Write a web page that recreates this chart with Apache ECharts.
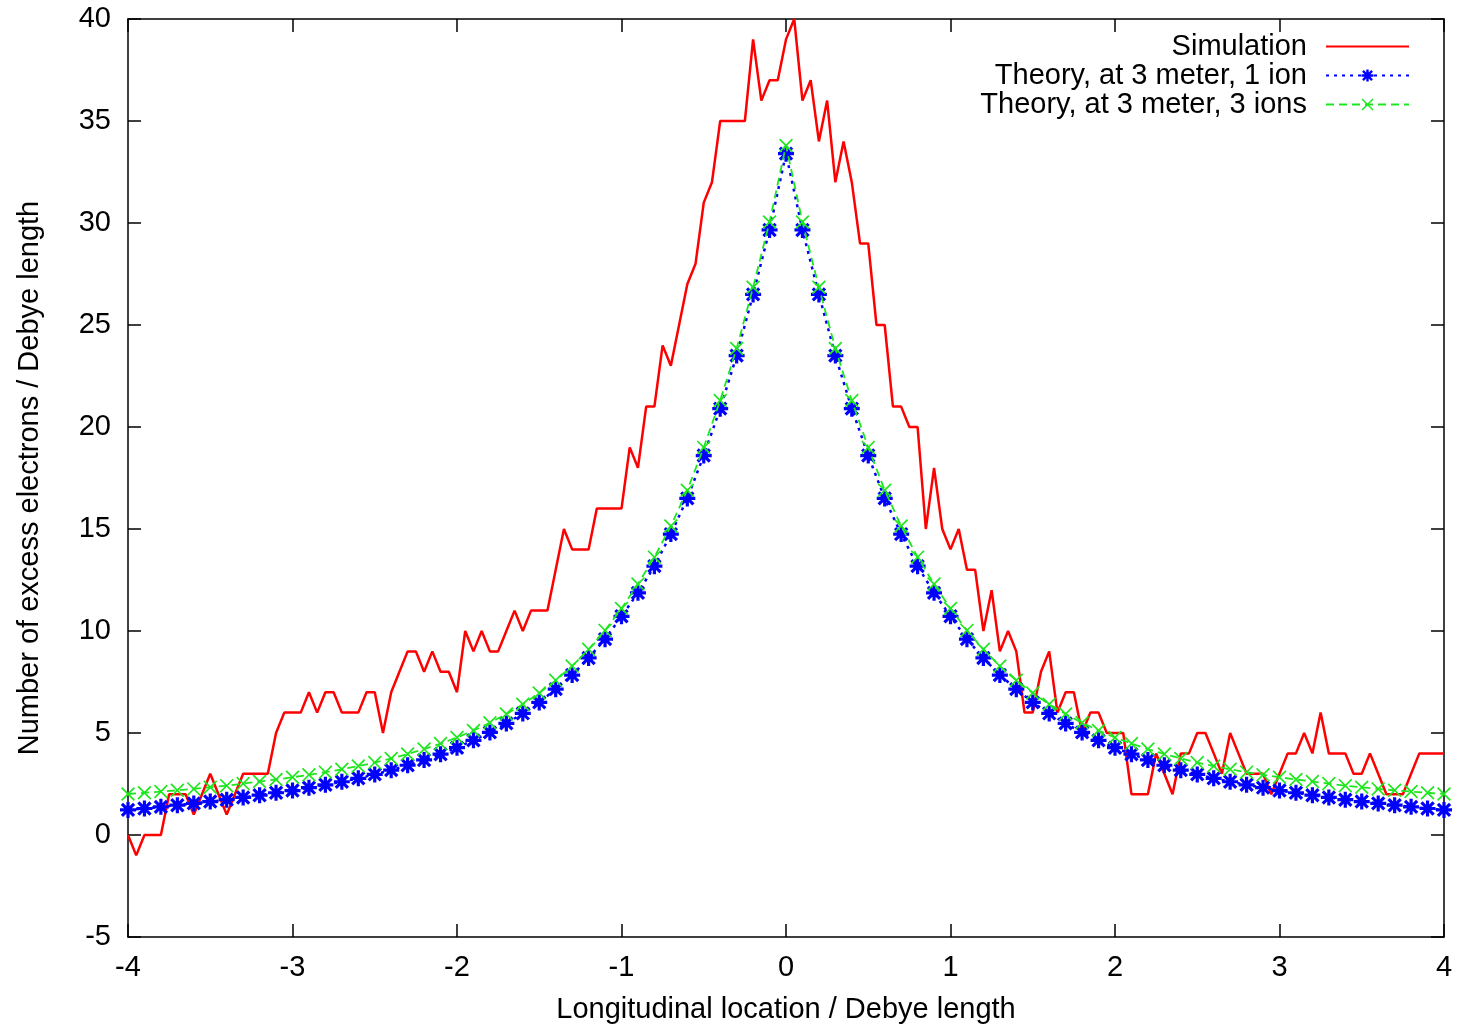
<!DOCTYPE html>
<html>
<head>
<meta charset="utf-8">
<script src="https://cdn.jsdelivr.net/npm/echarts@6/dist/echarts.min.js"></script>
<style>
  html, body { margin: 0; padding: 0; background: #fff; }
  #chart { width: 1460px; height: 1025px; }
</style>
</head>
<body>
<div id="chart"></div>
<script>
// sampling grids (x from -4 to 4)
const xStart = -4;
const simStep = 0.05;
const theoryStep = 0.1;

// red: excess electron counts, one value every 0.05
const simulation = [
  0, -1, 0, 0, 0, 2, 2, 2, 1, 2,
  3, 2, 1, 2, 3, 3, 3, 3, 5, 6,
  6, 6, 7, 6, 7, 7, 6, 6, 6, 7,
  7, 5, 7, 8, 9, 9, 8, 9, 8, 8,
  7, 10, 9, 10, 9, 9, 10, 11, 10, 11,
  11, 11, 13, 15, 14, 14, 14, 16, 16, 16,
  16, 19, 18, 21, 21, 24, 23, 25, 27, 28,
  31, 32, 35, 35, 35, 35, 39, 36, 37, 37,
  39, 40, 36, 37, 34, 36, 32, 34, 32, 29,
  29, 25, 25, 21, 21, 20, 20, 15, 18, 15,
  14, 15, 13, 13, 10, 12, 9, 10, 9, 6,
  6, 8, 9, 6, 7, 7, 5, 6, 6, 5,
  5, 5, 2, 2, 2, 4, 3, 2, 4, 4,
  5, 5, 4, 3, 5, 4, 3, 3, 3, 2,
  3, 4, 4, 5, 4, 6, 4, 4, 4, 3,
  3, 4, 3, 2, 2, 2, 3, 4, 4, 4,
  4
];

// blue: theory, 1 ion, one value every 0.1
const theory1Ion = [
  1.23, 1.30, 1.38, 1.46, 1.55, 1.64, 1.73, 1.84, 1.95, 2.07,
  2.18, 2.32, 2.46, 2.61, 2.78, 2.97, 3.18, 3.42, 3.68, 3.96,
  4.28, 4.64, 5.03, 5.47, 5.96, 6.50, 7.15, 7.84, 8.68, 9.60,
  10.72, 11.87, 13.18, 14.75, 16.50, 18.60, 20.90, 23.50, 26.50, 29.66,
  33.40,
  29.66, 26.50, 23.50, 20.90, 18.60, 16.50, 14.75, 13.18, 11.87, 10.72,
  9.60, 8.68, 7.84, 7.15, 6.50, 5.96, 5.47, 5.03, 4.64, 4.28,
  3.96, 3.68, 3.42, 3.18, 2.97, 2.78, 2.61, 2.46, 2.32, 2.18,
  2.07, 1.95, 1.84, 1.73, 1.64, 1.55, 1.46, 1.38, 1.30, 1.23
];

// green: theory, 3 ions, one value every 0.1
const theory3Ions = [
  2.01, 2.07, 2.13, 2.19, 2.26, 2.34, 2.42, 2.52, 2.62, 2.72,
  2.83, 2.95, 3.08, 3.22, 3.38, 3.55, 3.75, 3.97, 4.21, 4.48,
  4.78, 5.12, 5.50, 5.93, 6.41, 6.96, 7.58, 8.28, 9.10, 10.03,
  11.10, 12.30, 13.62, 15.15, 16.90, 19.00, 21.30, 23.85, 26.85, 30.05,
  33.80,
  30.05, 26.85, 23.85, 21.30, 19.00, 16.90, 15.15, 13.62, 12.30, 11.10,
  10.03, 9.10, 8.28, 7.58, 6.96, 6.41, 5.93, 5.50, 5.12, 4.78,
  4.48, 4.21, 3.97, 3.75, 3.55, 3.38, 3.22, 3.08, 2.95, 2.83,
  2.72, 2.62, 2.52, 2.42, 2.34, 2.26, 2.19, 2.13, 2.07, 2.01
];

const seriesNames = ["Simulation", "Theory, at 3 meter, 1 ion", "Theory, at 3 meter, 3 ions"];

const font = "'Liberation Sans', Arial, sans-serif";
const fs = 29;

// gnuplot-like point shapes
const asterisk = "path://M4,0 L6,0 L6,10 L4,10 Z M0,4 L10,4 L10,6 L0,6 Z " +
  "M1.9,0.5 L9.5,8.1 L8.1,9.5 L0.5,1.9 Z M8.1,0.5 L9.5,1.9 L1.9,9.5 L0.5,8.1 Z";
const cross = "path://M0.85,0 L10,9.15 L9.15,10 L0,0.85 Z M9.15,0 L10,0.85 L0.85,10 L0,9.15 Z";

const toPairs = (vals, step) =>
  vals.map((v, i) => [+(xStart + i * step).toFixed(2), v]);

const axisCommon = {
  type: "value",
  axisLine: { show: true, onZero: false, lineStyle: { color: "#000", width: 1.5 } },
  axisTick: { show: true, inside: true, length: 13, lineStyle: { color: "#000", width: 1.5 } },
  splitLine: { show: false },
};

const chart = echarts.init(document.getElementById("chart"));
chart.setOption({
  animation: false,
  backgroundColor: "#fff",
  textStyle: { fontFamily: font },
  grid: { left: 128, top: 19, right: 16, bottom: 88, outerBoundsMode: "none" },
  legend: {
    data: [
      { name: seriesNames[0], itemStyle: { opacity: 0 } },
      { name: seriesNames[1] },
      { name: seriesNames[2] },
    ],
    orient: "vertical",
    align: "right",
    right: 50,
    top: 32,
    padding: 0,
    itemWidth: 83,
    itemHeight: 15,
    itemGap: 0,
    selectedMode: false,
    textStyle: {
      fontFamily: font,
      fontSize: fs,
      color: "#000",
      lineHeight: 29,
      padding: [0, 14, 0, 0],
    },
  },
  xAxis: [
    {
      ...axisCommon,
      position: "bottom",
      min: -4,
      max: 4,
      interval: 1,
      name: "Longitudinal location / Debye length",
      nameLocation: "middle",
      nameGap: 58,
      nameTextStyle: { fontFamily: font, fontSize: fs, color: "#000" },
      axisLabel: { fontFamily: font, fontSize: fs, color: "#000", margin: 16 },
    },
    {
      ...axisCommon,
      position: "top",
      min: -4,
      max: 4,
      interval: 1,
      axisLabel: { show: false },
    },
  ],
  yAxis: [
    {
      ...axisCommon,
      position: "left",
      min: -5,
      max: 40,
      interval: 5,
      name: "Number of excess electrons / Debye length",
      nameLocation: "middle",
      nameGap: 84,
      nameTextStyle: { fontFamily: font, fontSize: fs, color: "#000" },
      axisLabel: { fontFamily: font, fontSize: fs, color: "#000", margin: 17 },
    },
    {
      ...axisCommon,
      position: "right",
      min: -5,
      max: 40,
      interval: 5,
      axisLabel: { show: false },
    },
  ],
  series: [
    {
      name: seriesNames[0],
      type: "line",
      data: toPairs(simulation, simStep),
      symbol: "none",
      clip: false,
      itemStyle: { color: "#ff0000" },
      lineStyle: { color: "#ff0000", width: 2.5 },
      z: 2,
    },
    {
      name: seriesNames[1],
      type: "line",
      data: toPairs(theory1Ion, theoryStep),
      symbol: asterisk,
      symbolSize: 16,
      showSymbol: true,
      itemStyle: { color: "#0000ff" },
      lineStyle: { color: "#0000ff", width: 2.5, type: [3, 5] },
      z: 3,
    },
    {
      name: seriesNames[2],
      type: "line",
      data: toPairs(theory3Ions, theoryStep),
      symbol: cross,
      symbolSize: 14,
      showSymbol: true,
      itemStyle: { color: "#1ee61e" },
      lineStyle: { color: "#1ee61e", width: 1.8, type: [8, 5] },
      z: 4,
    },
  ],
});
</script>
</body>
</html>
